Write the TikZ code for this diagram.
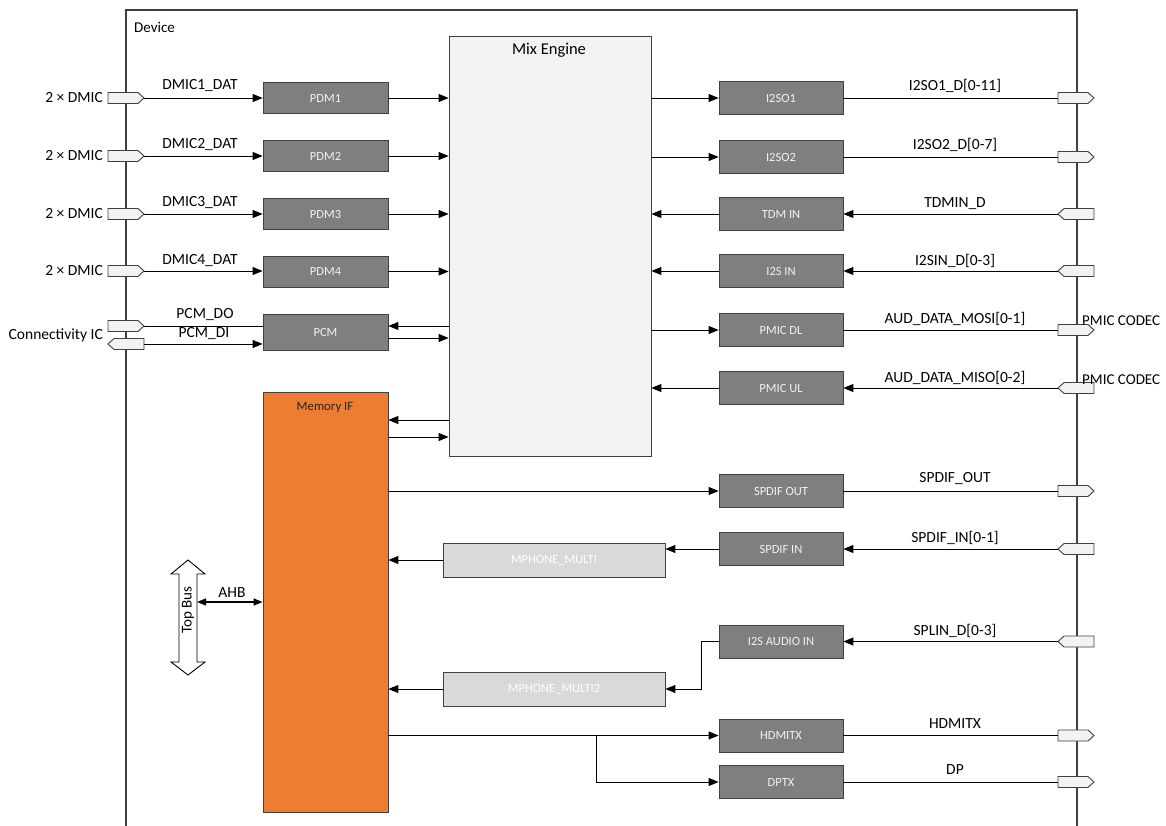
\documentclass[tikz,border=0pt]{standalone}
\usepackage{fontspec}
\setmainfont{Carlito}
\usetikzlibrary{arrows.meta}
\definecolor{dk}{HTML}{7F7F7F}
\definecolor{lt}{HTML}{F2F2F2}
\definecolor{mg}{HTML}{D9D9D9}
\definecolor{org}{HTML}{ED7D31}
\definecolor{edge}{HTML}{404040}
\tikzset{
  blk/.style={draw=edge, line width=0.8pt, fill=dk, text=lt, font=\fontsize{12.5}{14}\selectfont, minimum width=124pt, minimum height=33pt, inner sep=0pt},
  lblk/.style={blk, fill=mg, draw=edge, text=white, minimum width=222pt, minimum height=34pt},
  mixbox/.style={draw=edge, line width=0.8pt, fill=lt, inner sep=0pt},
  membox/.style={draw=edge, line width=0.8pt, fill=org, inner sep=0pt},
  sig/.style={font=\fontsize{15.5}{17}\selectfont, inner sep=0pt},
  con/.style={line width=0.9pt, draw=black},
  arr/.style={con, -{Triangle[length=10pt,width=8pt]}},
  rarr/.style={con, {Triangle[length=10pt,width=8pt]}-},
  darr/.style={con, line width=1.3pt, {Triangle[length=9pt,width=7pt]}-{Triangle[length=9pt,width=7pt]}},
  frame/.style={draw=edge, line width=1.5pt},
  portshape/.style={draw=edge, line width=0.9pt, fill=lt},
  portR/.pic={\draw[portshape] (0,-5.5) -- (30,-5.5) -- (36,0) -- (30,5.5) -- (0,5.5) -- cycle;
    \coordinate (-w) at (0,0); \coordinate (-e) at (36,0);},
  portL/.pic={\draw[portshape] (0,0) -- (6,-5.5) -- (36,-5.5) -- (36,5.5) -- (6,5.5) -- cycle;
    \coordinate (-w) at (0,0); \coordinate (-e) at (36,0);},
}
\begin{document}
\begin{tikzpicture}[x=1pt,y=-1pt]
\useasboundingbox (0,0) rectangle (1166,826);
% device frame
\draw[frame] (126,826) -- (126,10) -- (1077,10) -- (1077,826);
\node[sig, font=\fontsize{15}{17}\selectfont, anchor=west] (devlbl) at (134,27) {Device};

% mix engine
\node[mixbox, minimum width=202pt, minimum height=420pt] (mix) at (550,246) {};
\node[font=\fontsize{16.5}{18}\selectfont, inner sep=0pt] (mixlbl) at (549,50) {Mix Engine};

% memory IF
\node[membox, minimum width=125pt, minimum height=420pt] (mem) at (325.5,602) {};
\node[font=\fontsize{12.8}{14}\selectfont, text=black!85, inner sep=0pt] (memlbl) at (325,407) {Memory IF};

% left blocks
\node[blk, minimum width=125pt, minimum height=31pt] (pdm1) at (325.5,98) {PDM1};
\node[blk, minimum width=125pt, minimum height=31pt] (pdm2) at (325.5,156) {PDM2};
\node[blk, minimum width=125pt, minimum height=31pt] (pdm3) at (325.5,214) {PDM3};
\node[blk, minimum width=125pt, minimum height=31pt] (pdm4) at (325.5,271.5) {PDM4};
\node[blk, minimum width=125pt, minimum height=36pt] (pcm) at (325.5,332) {PCM};

% right blocks
\node[blk] (i2so1) at (781,98) {I2SO1};
\node[blk] (i2so2) at (781,157) {I2SO2};
\node[blk] (tdm) at (781,214) {TDM IN};
\node[blk] (i2sin) at (781,271) {I2S IN};
\node[blk] (pdl) at (781,330) {PMIC DL};
\node[blk] (pul) at (781,388) {PMIC UL};
\node[blk] (spo) at (781,491) {SPDIF OUT};
\node[blk] (spi) at (781,549) {SPDIF IN};
\node[blk] (i2sa) at (781,641.5) {I2S AUDIO IN};
\node[blk] (hdmi) at (781,735.5) {HDMITX};
\node[blk] (dptx) at (781,782) {DPTX};

\node[lblk] (mph1) at (554,560) {MPHONE\_MULTI};
\node[lblk] (mph2) at (554,689) {MPHONE\_MULTI2};

% left ports
\pic (pl1) at (108,98) {portR};
\pic (pl2) at (108,156) {portR};
\pic (pl3) at (108,214) {portR};
\pic (pl4) at (108,271) {portR};
\pic (pdo) at (108,326) {portR};
\pic (pdi) at (108,344) {portL};

\node[sig, anchor=east] (d1) at (103,98) {2 × DMIC};
\node[sig, anchor=east] (d2) at (103,156) {2 × DMIC};
\node[sig, anchor=east] (d3) at (103,214) {2 × DMIC};
\node[sig, anchor=east] (d4) at (103,271) {2 × DMIC};
\node[sig, anchor=east] (cic) at (103,335) {Connectivity IC};

% right ports
\pic (pr1) at (1058,98) {portR};
\pic (pr2) at (1058,157) {portR};
\pic (pr3) at (1058,214) {portL};
\pic (pr4) at (1058,271) {portL};
\pic (pr5) at (1058,330) {portR};
\pic (pr6) at (1058,388) {portL};
\pic (pr7) at (1058,491) {portR};
\pic (pr8) at (1058,549) {portL};
\pic (pr9) at (1058,641.5) {portL};
\pic (pr10) at (1058,735.5) {portR};
\pic (pr11) at (1058,782) {portR};

\node[sig, font=\fontsize{15}{17}\selectfont, anchor=west] (pc1) at (1082,321) {PMIC CODEC};
\node[sig, font=\fontsize{15}{17}\selectfont, anchor=west] (pc2) at (1082,380) {PMIC CODEC};

% left signal labels
\node[sig] (l1) at (200,86) {DMIC1\_DAT};
\node[sig] (l2) at (200,145) {DMIC2\_DAT};
\node[sig] (l3) at (200,203) {DMIC3\_DAT};
\node[sig] (l4) at (200,261) {DMIC4\_DAT};
\node[sig] (l5) at (205,315) {PCM\_DO};
\node[sig] (l6) at (204,334) {PCM\_DI};

% right signal labels
\node[sig] (r1) at (955,86) {I2SO1\_D[0-11]};
\node[sig] (r2) at (955,145) {I2SO2\_D[0-7]};
\node[sig] (r3) at (955,204) {TDMIN\_D};
\node[sig] (r4) at (955,261) {I2SIN\_D[0-3]};
\node[sig] (r5) at (955,319) {AUD\_DATA\_MOSI[0-1]};
\node[sig] (r6) at (955,378) {AUD\_DATA\_MISO[0-2]};
\node[sig] (r7) at (955,479) {SPDIF\_OUT};
\node[sig] (r8) at (955,538) {SPDIF\_IN[0-1]};
\node[sig] (r9) at (955,631) {SPLIN\_D[0-3]};
\node[sig] (r10) at (955,724) {HDMITX};
\node[sig] (r11) at (955,770) {DP};

% helper coordinates
\coordinate (y326) at (0,326);
\coordinate (y338) at (0,338);
\coordinate (y420) at (0,420);
\coordinate (y437) at (0,437);
\coordinate (elb) at (701,0);
\coordinate (br) at (596,735.5);

% left connectors
\draw[arr] (pl1-e) -- (pl1-e -| pdm1.west);
\draw[arr] (pl2-e) -- (pl2-e -| pdm2.west);
\draw[arr] (pl3-e) -- (pl3-e -| pdm3.west);
\draw[arr] (pl4-e) -- (pl4-e -| pdm4.west);
\draw[con] (pdo-e) -- (pdo-e -| pcm.west);
\draw[arr] (pdi-e) -- (pdi-e -| pcm.west);
\draw[arr] (pdm1.east) -- (pdm1.east -| mix.west);
\draw[arr] (pdm2.east) -- (pdm2.east -| mix.west);
\draw[arr] (pdm3.east) -- (pdm3.east -| mix.west);
\draw[arr] (pdm4.east) -- (pdm4.east -| mix.west);
\draw[rarr] (pcm.east |- y326) -- (mix.west |- y326);
\draw[arr] (pcm.east |- y338) -- (mix.west |- y338);
\draw[rarr] (mem.east |- y420) -- (mix.west |- y420);
\draw[arr] (mem.east |- y437) -- (mix.west |- y437);

% right connectors
\draw[arr] (mix.east |- i2so1) -- (i2so1.west);
\draw[arr] (mix.east |- i2so2) -- (i2so2.west);
\draw[arr] (tdm.west) -- (tdm.west -| mix.east);
\draw[arr] (i2sin.west) -- (i2sin.west -| mix.east);
\draw[arr] (mix.east |- pdl) -- (pdl.west);
\draw[arr] (pul.west) -- (pul.west -| mix.east);
\draw[con] (i2so1.east) -- (pr1-w);
\draw[con] (i2so2.east) -- (pr2-w);
\draw[arr] (pr3-w) -- (tdm.east);
\draw[arr] (pr4-w) -- (i2sin.east);
\draw[con] (pdl.east) -- (pr5-w);
\draw[arr] (pr6-w) -- (pul.east);

\draw[arr] (mem.east |- spo) -- (spo.west);
\draw[con] (spo.east) -- (pr7-w);
\draw[arr] (pr8-w) -- (spi.east);
\draw[arr] (spi.west) -- (spi.west -| mph1.east);
\draw[arr] (mph1.west) -- (mph1.west -| mem.east);
\draw[arr] (pr9-w) -- (i2sa.east);
\draw[arr] (i2sa.west) -- (i2sa.west -| elb) |- (mph2.east);
\draw[arr] (mph2.west) -- (mph2.west -| mem.east);
\draw[arr] (mem.east |- hdmi) -- (hdmi.west);
\draw[arr] (br) |- (dptx.west);
\draw[con] (hdmi.east) -- (pr10-w);
\draw[con] (dptx.east) -- (pr11-w);

% top bus
\draw[draw=black, line width=0.9pt, fill=white] (188,560) -- (205,574) -- (197,574) -- (197,662) -- (205,662) -- (188,675) -- (171,662) -- (179,662) -- (179,574) -- (171,574) -- cycle;
\node[sig, font=\fontsize{15}{17}\selectfont, rotate=90] (tbus) at (188,610) {Top Bus};
\coordinate (tbe) at (197,602);
\draw[darr] (tbe) -- (tbe -| mem.west);
\node[sig] (ahb) at (232,593) {AHB};
\end{tikzpicture}
\end{document}
